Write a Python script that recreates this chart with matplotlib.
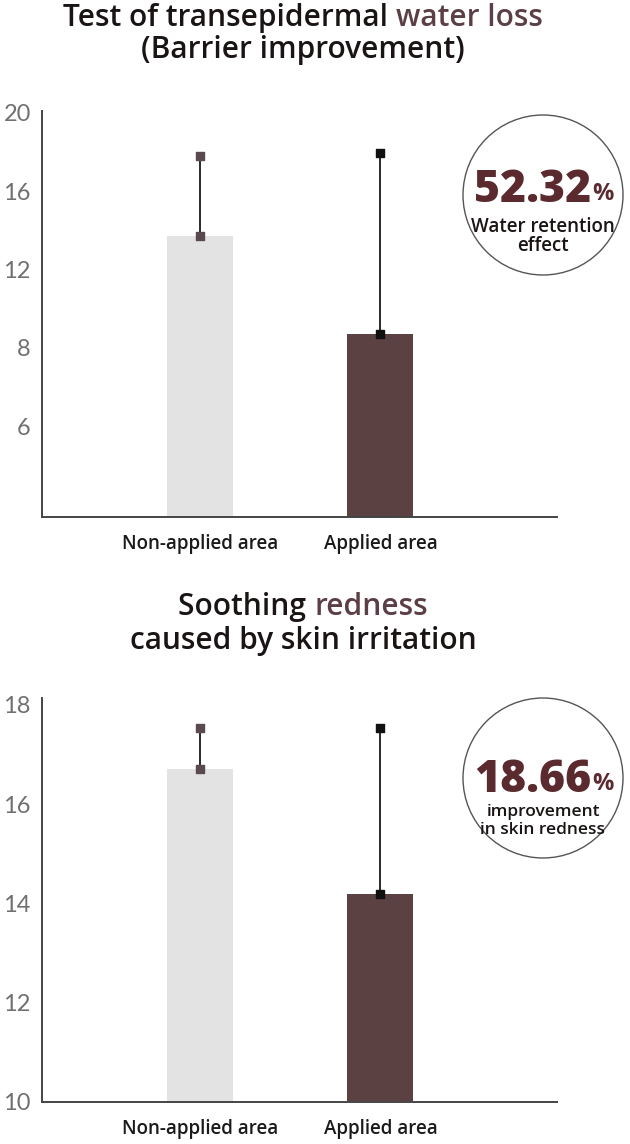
import numpy as np
import matplotlib.pyplot as plt
from matplotlib.patches import Circle

# Data

categories = ["Non-applied area", "Applied area"]

tewl_values = [13.7, 8.7]
tewl_err_top = [17.8, 17.95]
tewl_ticks = [20, 16, 12, 8, 4]
tewl_ticklabels = ["20", "16", "12", "8", "6"]

red_values = [16.71, 14.2]
red_err_top = [17.54, 17.54]
red_ticks = [18, 16, 14, 12, 10]
red_ticklabels = ["18", "16", "14", "12", "10"]

bar_colors = ["#e3e3e3", "#5b4142"]
marker_colors = ["#5a4a50", "#111111"]
accent = "#5c3f45"
big_red = "#5a2a2e"

W, H = 630, 1144
fig = plt.figure(figsize=(W / 100, H / 100), dpi=100, facecolor="white")

title_font = "Open Sans"


def draw_panel(rect, values, err_top, ticks, ticklabels, ylim):
    ax = fig.add_axes(rect)
    x = np.arange(len(categories))
    base = ylim[0]
    ax.bar(x, np.array(values) - base, bottom=base, width=0.366, color=bar_colors, zorder=2)
    for xi, v, t, mc in zip(x, values, err_top, marker_colors):
        ax.vlines(xi, v, t, color="#2a2a2a", linewidth=1.4, zorder=3)
        ax.scatter([xi, xi], [v, t], marker="s", s=28, color=mc, zorder=4, clip_on=False)
    ax.set_xlim(-0.875, 1.978)
    ax.set_ylim(*ylim)
    ax.set_yticks(ticks)
    ax.set_yticklabels(ticklabels, fontsize=17, color="#707070",
                       family="Lato", fontweight="normal")
    ax.set_xticks(x)
    ax.set_xticklabels(categories, fontsize=13.5, color="#1a1a1a",
                       family=title_font, fontweight="semibold")
    ax.tick_params(axis="both", length=0)
    ax.tick_params(axis="y", pad=8)
    ax.tick_params(axis="x", pad=12)
    for side in ["top", "right"]:
        ax.spines[side].set_visible(False)
    for side in ["left", "bottom"]:
        ax.spines[side].set_color("#444444")
        ax.spines[side].set_linewidth(1.4)
    return ax


ax1 = draw_panel([42 / W, 1 - 517 / H, 515 / W, 406 / H],
                 tewl_values, tewl_err_top, tewl_ticks, tewl_ticklabels, (-0.63, 20.1))
ax2 = draw_panel([42 / W, 1 - 1102 / H, 515 / W, 404 / H],
                 red_values, red_err_top, red_ticks, red_ticklabels, (10.02, 18.14))

# Overlay for titles and callout circles (pixel coordinates)
ov = fig.add_axes([0, 0, 1, 1], facecolor="none")
ov.set_xlim(0, W)
ov.set_ylim(H, 0)
ov.axis("off")

fig.canvas.draw()
renderer = fig.canvas.get_renderer()


def width_of(t):
    return t.get_window_extent(renderer).width


def two_tone(y, dark, light, size):
    t1 = ov.text(0, y, dark, fontsize=size, fontweight="semibold", family=title_font,
                 color="#1a1414", ha="left", va="center")
    t2 = ov.text(0, y, light, fontsize=size, fontweight="semibold", family=title_font,
                 color=accent, ha="left", va="center")
    w1, w2 = width_of(t1), width_of(t2)
    x0 = 303 - (w1 + w2) / 2
    t1.set_x(x0)
    t2.set_x(x0 + w1)


two_tone(18, "Test of transepidermal ", "water loss", 21.5)
ov.text(303, 50, "(Barrier improvement)", fontsize=21.5, fontweight="semibold",
        family=title_font, color="#1a1414", ha="center", va="center")

two_tone(607, "Soothing ", "redness", 21.5)
ov.text(303, 641, "caused by skin irritation", fontsize=21.5, fontweight="semibold",
        family=title_font, color="#1a1414", ha="center", va="center")


def callout(cx, cy, big, lines, sub_size, big_y, sub_y, gap):
    ov.add_patch(Circle((cx, cy), 80, facecolor="white", edgecolor="#555555",
                        linewidth=1.0, zorder=5))
    tb = ov.text(0, big_y, big, fontsize=32, fontweight="heavy", family=title_font,
                 color=big_red, ha="left", va="center", zorder=6)
    tp = ov.text(0, big_y + 4, "%", fontsize=17, fontweight="bold", family=title_font,
                 color=big_red, ha="left", va="center", zorder=6)
    wb, wp = width_of(tb), width_of(tp)
    x0 = cx + 1 - (wb + wp + 1) / 2
    tb.set_x(x0)
    tp.set_x(x0 + wb + 1)
    for i, line in enumerate(lines):
        ov.text(cx, sub_y + i * gap, line, fontsize=sub_size, fontweight="semibold",
                family=title_font, color="#1a1414", ha="center", va="center", zorder=6)


callout(543, 195, "52.32", ["Water retention", "effect"], 13.5, 190, 227, 19)
callout(543, 778, "18.66", ["improvement", "in skin redness"], 12.5, 780, 812, 18)

fig.savefig("out.png", dpi=100, facecolor="white")
